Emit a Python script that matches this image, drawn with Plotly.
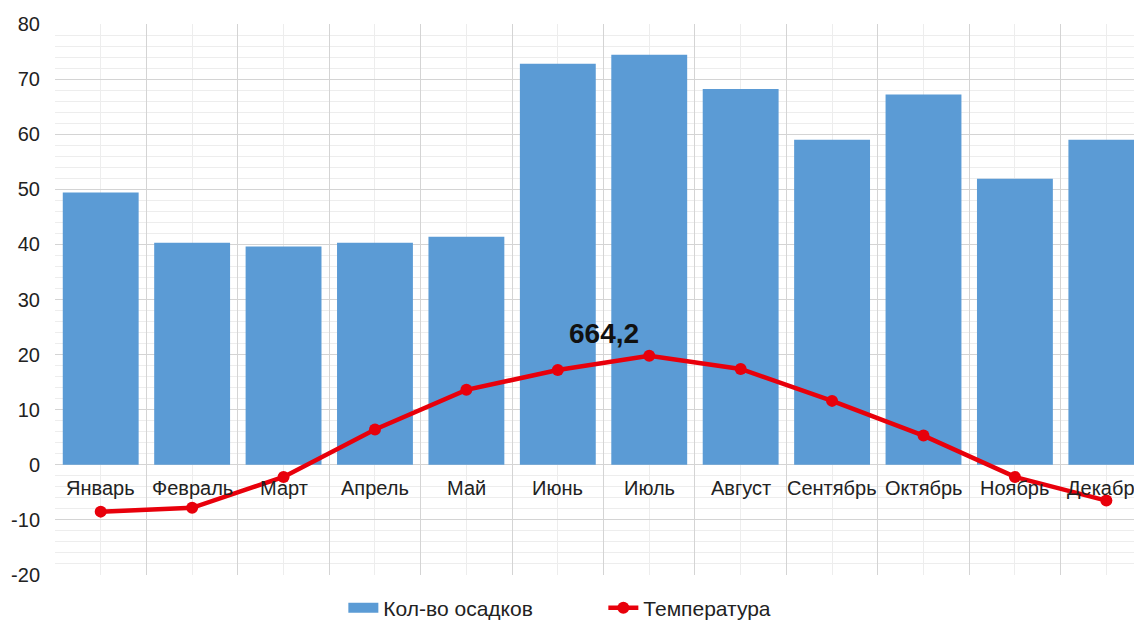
import plotly.graph_objects as go

months = ["Январь", "Февраль", "Март", "Апрель", "Май", "Июнь", "Июль",
          "Август", "Сентябрь", "Октябрь", "Ноябрь", "Декабрь"]
precip = [49.4, 40.3, 39.6, 40.3, 41.4, 72.8, 74.4, 68.2, 59.0, 67.2, 51.9, 59.0]
temp = [-8.5, -7.8, -2.2, 6.4, 13.6, 17.2, 19.8, 17.4, 11.6, 5.3, -2.2, -6.5]
total_label = "664,2"
y_tick_vals = [-20, -10, 0, 10, 20, 30, 40, 50, 60, 70, 80]
y_tick_text = ["-20", "-10", "0", "10", "20", "30", "40", "50", "60", "70", "80"]

x = list(range(len(months)))
BLUE = "#5b9bd5"
RED = "#e8000b"

fig = go.Figure()
fig.add_trace(go.Bar(x=x, y=precip, name="Кол-во осадков", showlegend=False,
                     marker=dict(color=BLUE, line=dict(width=0))))
# legend proxy for the bars (wide rectangle swatch)
fig.add_trace(go.Scatter(x=[None], y=[None], name="Кол-во осадков", mode="lines",
                         line=dict(color=BLUE, width=12)))
fig.add_trace(go.Scatter(x=x, y=temp, name="Температура", mode="lines+markers",
                         line=dict(color=RED, width=4.5),
                         marker=dict(color=RED, size=12)))

for i, m in enumerate(months):
    fig.add_annotation(x=i, y=-4.3, text=m, showarrow=False,
                       font=dict(size=20, color="#222222"), xanchor="center", yanchor="middle")

fig.add_annotation(x=5.5, y=23.8, text="<b>" + total_label + "</b>", showarrow=False,
                   font=dict(size=28, color="#111111"), xanchor="center", yanchor="middle")

fig.update_layout(
    width=1134, height=613,
    margin=dict(l=47, r=0, t=16, b=46, autoexpand=False),
    paper_bgcolor="white", plot_bgcolor="white",
    bargap=0.17,
    font=dict(family="Liberation Sans, Arial, sans-serif", color="#222222"),
    showlegend=True,
    legend=dict(orientation="h", xref="container", yref="container",
                x=0.525, xanchor="center", y=0.021, yanchor="middle",
                font=dict(size=21, color="#222222"), itemwidth=30,
                entrywidth=215, entrywidthmode="pixels"),
    xaxis=dict(range=[-0.5, 11.39], tickmode="linear", tick0=-0.5, dtick=1,
               showticklabels=False, showgrid=True, gridcolor="#d4d4d4", gridwidth=1,
               zeroline=False, showline=False,
               minor=dict(tickmode="linear", tick0=0, dtick=1, showgrid=True,
                          gridcolor="#ededed", gridwidth=1)),
    yaxis=dict(range=[-20, 80], tickmode="array", tickvals=y_tick_vals, ticktext=y_tick_text,
               showgrid=True, gridcolor="#d4d4d4", gridwidth=1,
               zeroline=False, showline=False,
               tickfont=dict(size=20, color="#222222"), ticklabelstandoff=14,
               minor=dict(tickmode="linear", tick0=-20, dtick=2, showgrid=True,
                          gridcolor="#ededed", gridwidth=1)),
)

fig.write_html("out.html")
